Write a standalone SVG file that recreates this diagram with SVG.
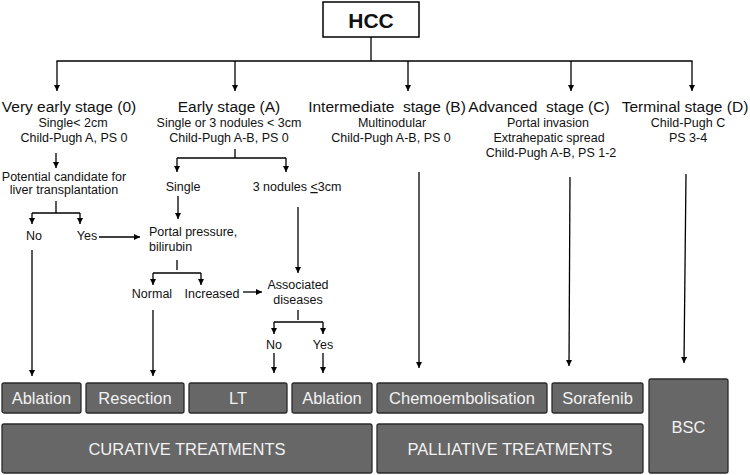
<svg xmlns="http://www.w3.org/2000/svg" width="750" height="475" viewBox="0 0 750 475">
<defs>
<marker id="ah" viewBox="0 0 10 10" refX="10" refY="5" markerWidth="6" markerHeight="6" markerUnits="userSpaceOnUse" orient="auto">
<path d="M0,0 L10,5 L0,10 z" fill="#000"/>
</marker>
</defs>
<style>
text{font-family:"Liberation Sans",Arial,sans-serif;fill:#111;}
.t{font-size:15.5px;text-anchor:middle;}
.s{font-size:12.5px;text-anchor:middle;}
.sl{font-size:12.5px;}
.c line,.c path{stroke:#000;stroke-width:1.3;fill:none;}
.a{marker-end:url(#ah);}
.box{fill:#676767;stroke:#2a2a2a;stroke-width:1.3;}
.bt{font-size:16.5px;fill:#f2f2f2;text-anchor:middle;}
</style>
<rect width="750" height="475" fill="#fff"/>

<g id="hcc">
<rect x="323" y="2" width="96" height="35" fill="#fff" stroke="#000" stroke-width="1.5"/>
<text x="371" y="28" style="font-size:21px;font-weight:bold;text-anchor:middle;">HCC</text>
</g>

<g id="stage0">
<text class="t" x="69" y="112">Very early stage (0)</text>
<text class="s" x="73" y="127">Single&lt; 2cm</text>
<text class="s" x="74" y="142">Child-Pugh A, PS 0</text>
</g>
<g id="stageA">
<text class="t" x="229" y="112">Early stage (A)</text>
<text class="s" x="229" y="127">Single or 3 nodules &lt; 3cm</text>
<text class="s" x="229" y="142">Child-Pugh A-B, PS 0</text>
</g>
<g id="stageB">
<text class="t" x="387" y="112" xml:space="preserve">Intermediate  stage (B)</text>
<text class="s" x="392" y="127">Multinodular</text>
<text class="s" x="391" y="142">Child-Pugh A-B, PS 0</text>
</g>
<g id="stageC">
<text class="t" x="539" y="112" xml:space="preserve">Advanced  stage (C)</text>
<text class="s" x="548" y="127">Portal invasion</text>
<text class="s" x="549" y="142">Extrahepatic spread</text>
<text class="s" x="551" y="157">Child-Pugh A-B, PS 1-2</text>
</g>
<g id="stageD">
<text class="t" x="685" y="112">Terminal stage (D)</text>
<text class="s" x="688" y="127">Child-Pugh C</text>
<text class="s" x="688" y="142">PS 3-4</text>
</g>

<g id="candidate">
<text class="s" x="64" y="181">Potential candidate for</text>
<text class="s" x="64" y="194">liver transplantation</text>
</g>
<g id="no1"><text class="s" x="34" y="240">No</text></g>
<g id="yes1"><text class="s" x="87" y="240">Yes</text></g>
<g id="single"><text class="s" x="183" y="191">Single</text></g>
<g id="nodules"><text class="s" x="297" y="191">3 nodules <tspan text-decoration="underline">&lt;</tspan>3cm</text></g>
<g id="portal">
<text class="sl" x="149" y="236">Portal pressure,</text>
<text class="sl" x="149" y="251">bilirubin</text>
</g>
<g id="normal"><text class="s" x="152" y="298">Normal</text></g>
<g id="increased"><text class="s" x="212" y="298">Increased</text></g>
<g id="associated">
<text class="s" x="298" y="289">Associated</text>
<text class="s" x="298" y="304">diseases</text>
</g>
<g id="no2"><text class="s" x="274" y="349">No</text></g>
<g id="yes2"><text class="s" x="323" y="349">Yes</text></g>

<g id="ablation1"><rect class="box" x="2" y="383" width="79" height="30" rx="2"/><text class="bt" x="41.5" y="404">Ablation</text></g>
<g id="resection"><rect class="box" x="86" y="383" width="98" height="30" rx="2"/><text class="bt" x="135" y="404">Resection</text></g>
<g id="lt"><rect class="box" x="189" y="383" width="98" height="30" rx="2"/><text class="bt" x="238" y="404">LT</text></g>
<g id="ablation2"><rect class="box" x="292" y="383" width="80" height="30" rx="2"/><text class="bt" x="332" y="404">Ablation</text></g>
<g id="chemo"><rect class="box" x="377" y="383" width="170" height="30" rx="2"/><text class="bt" x="462" y="404">Chemoembolisation</text></g>
<g id="sorafenib"><rect class="box" x="552" y="383" width="91" height="30" rx="2"/><text class="bt" x="597.5" y="404">Sorafenib</text></g>
<g id="curative"><rect class="box" x="2" y="424" width="370" height="49" rx="2"/><text class="bt" x="187" y="455">CURATIVE TREATMENTS</text></g>
<g id="palliative"><rect class="box" x="377" y="424" width="266" height="49" rx="2"/><text class="bt" x="510" y="455">PALLIATIVE TREATMENTS</text></g>
<g id="bsc"><rect class="box" x="649" y="379" width="79" height="94" rx="2"/><text class="bt" x="688.5" y="433">BSC</text></g>

<g id="connectors" class="c">
<line x1="371" y1="37" x2="371" y2="61"/>
<line x1="56.5" y1="61" x2="692.5" y2="61"/>
<line class="a" x1="57" y1="61" x2="57" y2="91"/>
<line class="a" x1="235" y1="61" x2="235" y2="91"/>
<line class="a" x1="408" y1="61" x2="408" y2="91"/>
<line class="a" x1="571" y1="61" x2="571" y2="91"/>
<line class="a" x1="692" y1="61" x2="692" y2="91"/>

<line class="a" x1="56" y1="153" x2="56" y2="168"/>
<line x1="56" y1="201" x2="56" y2="213"/>
<line x1="32" y1="213" x2="80" y2="213"/>
<line class="a" x1="32" y1="213" x2="32" y2="224"/>
<line class="a" x1="80" y1="213" x2="80" y2="224"/>
<line class="a" x1="99" y1="237" x2="140" y2="237"/>
<line class="a" x1="32" y1="250" x2="32" y2="376"/>

<line x1="235" y1="149" x2="235" y2="158"/>
<line x1="177" y1="158" x2="286" y2="158"/>
<line class="a" x1="177" y1="158" x2="177" y2="172"/>
<line class="a" x1="286" y1="158" x2="286" y2="172"/>
<line class="a" x1="178" y1="196" x2="178" y2="219"/>
<line class="a" x1="298" y1="207" x2="298" y2="273"/>

<line x1="177" y1="260" x2="177" y2="270"/>
<line x1="153" y1="273" x2="201" y2="273"/>
<line class="a" x1="153" y1="273" x2="153" y2="285"/>
<line class="a" x1="201" y1="273" x2="201" y2="285"/>
<line class="a" x1="243" y1="292" x2="262" y2="292"/>
<line class="a" x1="153" y1="310" x2="153" y2="376"/>

<line x1="298" y1="310" x2="298" y2="320"/>
<line x1="274" y1="322" x2="323" y2="322"/>
<line class="a" x1="274" y1="322" x2="274" y2="334"/>
<line class="a" x1="323" y1="322" x2="323" y2="334"/>
<line class="a" x1="274" y1="353" x2="274" y2="373"/>
<line class="a" x1="323" y1="353" x2="323" y2="373"/>

<line class="a" x1="419" y1="172" x2="419" y2="368"/>
<line class="a" x1="570" y1="177" x2="569" y2="366"/>
<line class="a" x1="686" y1="174" x2="684" y2="363"/>
</g>
</svg>
